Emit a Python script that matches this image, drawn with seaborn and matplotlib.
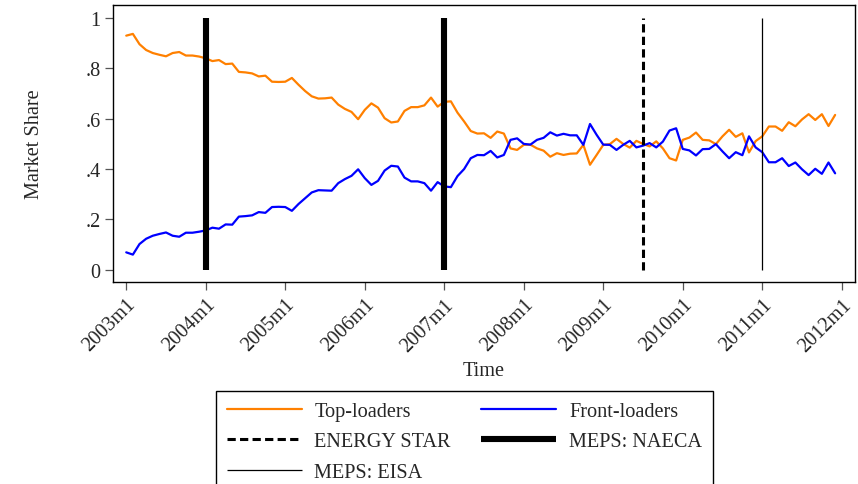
import matplotlib
matplotlib.use("Agg")
import matplotlib.pyplot as plt
import pandas as pd
import seaborn as sns

# Monthly market shares, starting in 2003m1 (one value per month through 2011m12)
first_month = "2003m1"
top_loaders = [
    0.930, 0.937, 0.896, 0.873, 0.861, 0.854, 0.848, 0.861, 0.865, 0.851, 0.851, 0.847,
    0.840, 0.829, 0.833, 0.817, 0.819, 0.786, 0.784, 0.780, 0.768, 0.771, 0.747, 0.746,
    0.747, 0.762, 0.735, 0.710, 0.689, 0.680, 0.681, 0.684, 0.656, 0.639, 0.627, 0.598,
    0.635, 0.661, 0.644, 0.602, 0.585, 0.589, 0.631, 0.646, 0.646, 0.653, 0.684, 0.648,
    0.667, 0.669, 0.624, 0.589, 0.551, 0.541, 0.542, 0.524, 0.549, 0.541, 0.482, 0.476,
    0.496, 0.497, 0.482, 0.473, 0.449, 0.463, 0.456, 0.461, 0.462, 0.496, 0.417, 0.456,
    0.496, 0.499, 0.520, 0.500, 0.485, 0.512, 0.500, 0.490, 0.510, 0.482, 0.443, 0.434,
    0.516, 0.525, 0.545, 0.516, 0.514, 0.499, 0.530, 0.556, 0.528, 0.542, 0.466, 0.511,
    0.530, 0.569, 0.569, 0.552, 0.586, 0.570, 0.597, 0.618, 0.595, 0.618, 0.571, 0.615,
]
front_loaders = [
    0.069, 0.060, 0.102, 0.123, 0.135, 0.142, 0.148, 0.135, 0.131, 0.147, 0.147, 0.151,
    0.156, 0.167, 0.163, 0.180, 0.179, 0.211, 0.213, 0.216, 0.229, 0.226, 0.249, 0.250,
    0.249, 0.234, 0.261, 0.284, 0.307, 0.316, 0.315, 0.314, 0.344, 0.360, 0.373, 0.399,
    0.364, 0.337, 0.353, 0.394, 0.413, 0.410, 0.366, 0.351, 0.351, 0.344, 0.314, 0.348,
    0.331, 0.328, 0.372, 0.400, 0.443, 0.456, 0.455, 0.472, 0.446, 0.456, 0.516, 0.522,
    0.500, 0.497, 0.516, 0.524, 0.546, 0.533, 0.540, 0.534, 0.534, 0.496, 0.579, 0.536,
    0.497, 0.496, 0.476, 0.496, 0.512, 0.486, 0.493, 0.503, 0.486, 0.509, 0.553, 0.562,
    0.480, 0.474, 0.454, 0.479, 0.480, 0.499, 0.470, 0.443, 0.467, 0.455, 0.530, 0.486,
    0.467, 0.427, 0.427, 0.443, 0.412, 0.426, 0.399, 0.376, 0.401, 0.381, 0.426, 0.383,
]

# Policy events
naeca_months = ["2004m1", "2007m1"]
energy_star_month = "2009m7"
eisa_month = "2011m1"

x_tick_labels = ["2003m1", "2004m1", "2005m1", "2006m1", "2007m1",
                 "2008m1", "2009m1", "2010m1", "2011m1", "2012m1"]
y_ticks = [0, 0.2, 0.4, 0.6, 0.8, 1.0]
y_tick_labels = ["0", ".2", ".4", ".6", ".8", "1"]


def month_index(label):
    """Months elapsed since the first month, for a Stata-style 'YYYYmM' label."""
    y0, m0 = (int(v) for v in first_month.split("m"))
    y, m = (int(v) for v in label.split("m"))
    return (y - y0) * 12 + (m - m0)


FS = 14.6
sns.set_theme(style="ticks")
plt.rcParams["font.family"] = ["Liberation Serif", "DejaVu Serif"]
plt.rcParams["font.size"] = FS

W, H = 858, 485
fig = plt.figure(figsize=(W / 100, H / 100), dpi=100)
ax = fig.add_axes([113 / W, 1 - 283.3 / H, (855 - 113) / W, (283.3 - 5.7) / H])

months = list(range(len(top_loaders)))
shares = pd.DataFrame({"month": months, "Top-loaders": top_loaders,
                       "Front-loaders": front_loaders})

sns.lineplot(data=shares, x="month", y="Top-loaders", color="#ff8000",
             linewidth=1.6, ax=ax)
sns.lineplot(data=shares, x="month", y="Front-loaders", color="#0000ff",
             linewidth=1.6, ax=ax)

h_es = ax.vlines([month_index(energy_star_month)], 0, 1, colors="black",
                 linewidth=2.2, linestyles=(0, (2.7, 1.4)))
h_naeca = ax.vlines([month_index(m) for m in naeca_months], 0, 1, colors="black",
                    linewidth=4.4)
h_eisa = ax.vlines([month_index(eisa_month)], 0, 1, colors="black", linewidth=0.9)

ax.set_xlim(-2, 110)
ax.set_ylim(-0.05, 1.053)
ax.set_xticks([month_index(t) for t in x_tick_labels])
ax.set_xticklabels(x_tick_labels, rotation=45, ha="right", va="top",
                   rotation_mode="anchor")
ax.set_yticks(y_ticks)
ax.set_yticklabels(y_tick_labels)
ax.tick_params(axis="both", direction="out", length=6, width=0.9, color="#555555",
               labelsize=FS, pad=3)
ax.set_xlabel("Time", fontsize=FS, labelpad=4)
ax.set_ylabel("Market Share", fontsize=FS, labelpad=30)
for s in ax.spines.values():
    s.set_visible(True)
    s.set_color("black")
    s.set_linewidth(1.0)

lines = ax.get_lines()
handles = [lines[0], h_es, h_eisa, lines[1], h_naeca]
labels = ["Top-loaders", "ENERGY STAR", "MEPS: EISA", "Front-loaders", "MEPS: NAECA"]
leg = fig.legend(handles, labels, ncol=2, loc="upper left",
                 bbox_to_anchor=(215.7 / W, 1 - 391.7 / H),
                 bbox_transform=fig.transFigure, frameon=True, fancybox=False,
                 edgecolor="black", framealpha=1, fontsize=FS,
                 handlelength=3.7, handletextpad=0.62, columnspacing=1.5,
                 labelspacing=0.55, borderpad=0.55, borderaxespad=0)
leg.get_frame().set_linewidth(1.0)

fig.savefig("out.png", dpi=100)
